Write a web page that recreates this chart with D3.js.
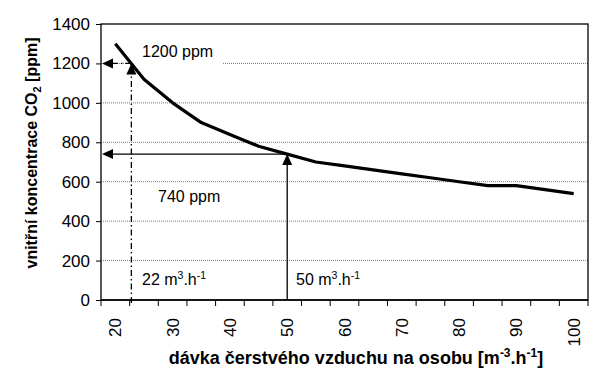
<!DOCTYPE html>
<html>
<head>
<meta charset="utf-8">
<script src="https://cdn.jsdelivr.net/npm/d3@7"></script>
<style>
  body { margin: 0; background: #fff; }
  svg { font-family: "Liberation Sans", Arial, sans-serif; }
</style>
</head>
<body>
<svg id="chart" width="600" height="386"></svg>
<script>
// data
const categories = [20, 25, 30, 35, 40, 45, 50, 55, 60, 65, 70, 75, 80, 85, 90, 95, 100];
const co2 = [1300, 1120, 1000, 900, 840, 780, 740, 700, 680, 660, 640, 620, 600, 580, 580, 560, 540];
const yTicks = [0, 200, 400, 600, 800, 1000, 1200, 1400];
const xLabels = [20, 30, 40, 50, 60, 70, 80, 90, 100];
// reading points (airflow, ppm) - 22 m3/h gives 1200 ppm, 50 m3/h gives 740 ppm
const read22 = [22.8, 1200];
const read50 = [50, 740];

const svg = d3.select("#chart");
const margin = { top: 24, right: 12, bottom: 86, left: 101 };
const W = 600, H = 386;

const x = d3.scaleBand()
    .domain(categories)
    .range([margin.left, W - margin.right])
    .padding(0);
const bw = x.bandwidth();
const xv = d3.scaleLinear()
    .domain([20, 100])
    .range([x(20) + bw / 2, x(100) + bw / 2]);
const y = d3.scaleLinear()
    .domain([0, 1400])
    .range([H - margin.bottom, margin.top]);

const left = margin.left, right = W - margin.right;

// gridlines
svg.append("g")
    .selectAll("line")
    .data(yTicks.filter(d => d > 0 && d < 1400))
    .enter()
    .append("line")
    .attr("x1", left).attr("x2", right)
    .attr("y1", d => y(d)).attr("y2", d => y(d))
    .attr("stroke", "#777")
    .attr("stroke-width", 1)
    .attr("stroke-dasharray", "1,1");

// white box behind 1200 ppm label
svg.append("rect")
    .attr("x", xv(read22[0]) + 1)
    .attr("y", y(1200) - 3)
    .attr("width", 222 - xv(read22[0]))
    .attr("height", 6)
    .attr("fill", "#fff");

// plot border
svg.append("rect")
    .attr("x", left).attr("y", margin.top)
    .attr("width", right - left)
    .attr("height", y(0) - margin.top)
    .attr("fill", "none")
    .attr("stroke", "#000")
    .attr("stroke-width", 1.3);

// y axis
const yAxis = svg.append("g")
    .attr("transform", `translate(${left},0)`)
    .call(d3.axisLeft(y).tickValues(yTicks).tickSize(5).tickPadding(6).tickFormat(d3.format("d")));
yAxis.select(".domain").remove();
yAxis.selectAll("line").attr("stroke", "#000");
yAxis.selectAll("text")
    .attr("font-size", 17)
    .attr("font-family", "Liberation Sans, Arial, sans-serif")
    .attr("fill", "#000");

// x axis: ticks at category boundaries
const xAxisG = svg.append("g");
xAxisG.append("line")
    .attr("x1", left).attr("x2", right)
    .attr("y1", y(0)).attr("y2", y(0))
    .attr("stroke", "#000").attr("stroke-width", 1.5);
const bounds = categories.map(c => x(c)).concat([x(categories[categories.length - 1]) + bw]);
xAxisG.selectAll(".tk")
    .data(bounds)
    .enter()
    .append("line")
    .attr("x1", d => d).attr("x2", d => d)
    .attr("y1", y(0)).attr("y2", y(0) + 6)
    .attr("stroke", "#000");
xAxisG.selectAll(".lbl")
    .data(xLabels)
    .enter()
    .append("text")
    .attr("transform", d => `translate(${x(d) + bw / 2 + 6},${y(0) + 18}) rotate(-90)`)
    .attr("text-anchor", "end")
    .attr("font-size", 17)
    .attr("fill", "#000")
    .text(d => d);

// axis titles
svg.append("text")
    .attr("transform", `translate(37,153) rotate(-90)`)
    .attr("text-anchor", "middle")
    .attr("font-size", 16)
    .attr("font-weight", "bold")
    .html('vnitřní koncentrace CO<tspan font-size="11" dy="4">2</tspan><tspan dy="-4"> [ppm]</tspan>');

svg.append("text")
    .attr("x", 356)
    .attr("y", 364)
    .attr("text-anchor", "middle")
    .attr("font-size", 18)
    .attr("font-weight", "bold")
    .html('dávka čerstvého vzduchu na osobu [m<tspan font-size="12" dy="-7">-3</tspan><tspan dy="7">.h</tspan><tspan font-size="12" dy="-7">-1</tspan><tspan dy="7">]</tspan>');

// curve
const line = d3.line()
    .x((d, i) => x(categories[i]) + bw / 2)
    .y(d => y(d));
svg.append("path")
    .datum(co2)
    .attr("d", line)
    .attr("fill", "none")
    .attr("stroke", "#000")
    .attr("stroke-width", 3.2)
    .attr("stroke-linejoin", "round");

// arrows
function arrowHead(px, py, dir) {
    const L = 11, Wd = 5;
    let pts;
    if (dir === "left") pts = [[px, py], [px + L, py - Wd], [px + L, py + Wd]];
    else pts = [[px, py], [px - Wd, py + L], [px + Wd, py + L]];
    svg.append("polygon")
        .attr("points", pts.map(p => p.join(",")).join(" "))
        .attr("fill", "#000");
}

function reading(pt, dash) {
    const px = xv(pt[0]), py = y(pt[1]);
    // vertical from axis up to curve
    svg.append("line")
        .attr("x1", px).attr("x2", px)
        .attr("y1", y(0) + (dash ? 3 : 0)).attr("y2", py + 9)
        .attr("stroke", "#000").attr("stroke-width", 1.3)
        .attr("stroke-dasharray", dash ? "6,3,1.5,3" : null);
    arrowHead(px, py, "up");
    // horizontal from curve to y axis
    svg.append("line")
        .attr("x1", px).attr("x2", left + 9)
        .attr("y1", py).attr("y2", py)
        .attr("stroke", "#000").attr("stroke-width", 1.3)
        .attr("stroke-dasharray", dash ? "6,3,1.5,3" : null);
    arrowHead(left + 1, py, "left");
}
reading(read22, true);
reading(read50, false);

// annotation labels
const ann = svg.append("g").attr("font-size", 16).attr("fill", "#000");
ann.append("text").attr("x", 142).attr("y", 57).text("1200 ppm");
ann.append("text").attr("x", 158).attr("y", 202).text("740 ppm");
ann.append("text").attr("x", 142).attr("y", 285)
    .html('22 m<tspan font-size="10.5" dy="-6">3</tspan><tspan dy="6">.h</tspan><tspan font-size="10.5" dy="-6">-1</tspan>');
ann.append("text").attr("x", 296).attr("y", 285)
    .html('50 m<tspan font-size="10.5" dy="-6">3</tspan><tspan dy="6">.h</tspan><tspan font-size="10.5" dy="-6">-1</tspan>');
</script>
</body>
</html>
